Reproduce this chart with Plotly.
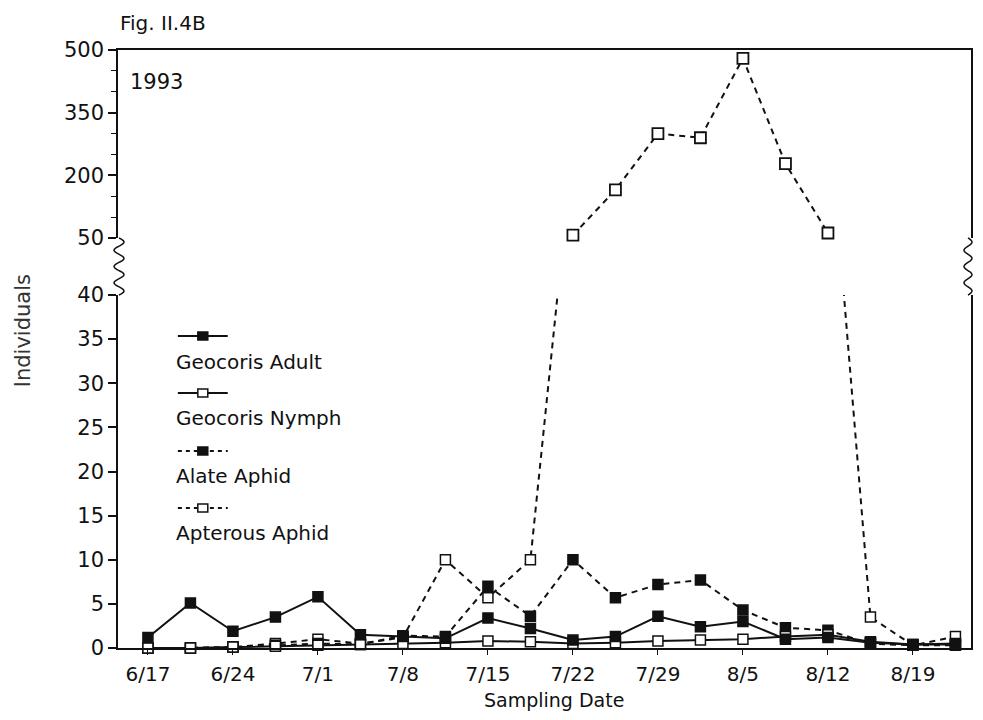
import math
import plotly.graph_objects as go

# ---------------- data ----------------
sample_dates = ["6/17", "6/21", "6/24", "6/28", "7/1", "7/5", "7/8", "7/12", "7/15", "7/19",
                "7/22", "7/26", "7/29", "8/2", "8/5", "8/9", "8/12", "8/16", "8/19", "8/23"]
tick_labels = ["6/17", "6/24", "7/1", "7/8", "7/15", "7/22", "7/29", "8/5", "8/12", "8/19"]

geocoris_adult = [1.2, 5.1, 1.9, 3.5, 5.8, 1.5, 1.3, 1.1, 3.4, 2.2,
                  0.9, 1.3, 3.6, 2.4, 3.0, 1.0, 1.2, 0.6, 0.4, 0.4]
geocoris_nymph = [0.0, 0.0, 0.1, 0.2, 0.3, 0.4, 0.5, 0.6, 0.8, 0.7,
                  0.5, 0.6, 0.8, 0.9, 1.0, 1.3, 1.5, 0.7, 0.4, 0.5]
alate_aphid = [0.0, 0.0, 0.1, 0.3, 0.5, 0.4, 1.4, 1.3, 7.0, 3.6,
               10.0, 5.7, 7.2, 7.7, 4.3, 2.3, 2.0, 0.5, 0.3, 0.3]
apterous_aphid = [0.0, 0.0, 0.1, 0.5, 1.0, 0.5, 1.2, 10.0, 5.7, 10.0,
                  57, 165, 300, 290, 480, 228, 62, 3.5, 0.3, 1.3]

lower_ticks = [0, 5, 10, 15, 20, 25, 30, 35, 40]
upper_ticks = [50, 200, 350, 500]
LOWER_MAX = 40
UPPER_MIN = 50

idx = list(range(len(sample_dates)))
tick_idx = [sample_dates.index(t) for t in tick_labels]

# ---------------- geometry helpers (layout only) ----------------
# The page body has an 8px margin, so the figure is sized to fill the
# 983x720 window exactly together with that margin.
SH = 8
W, H = 983 - 2 * SH, 720 - 2 * SH
SL, SR, ST, SB = 118, 973, 50, 648   # target plot box in window pixels
PW, PH = SR - SL, SB - ST
STEP = 42.6                           # pixels between samples


def px(x):
    return (x - SL) / PW


def py(y):
    return (SB - y) / PH


BLACK = "#111111"
FONT = "DejaVu Sans"
DASH = "6px,5px"

fig = go.Figure()

series = [
    ("Apterous Aphid", apterous_aphid, DASH, "white"),
    ("Alate Aphid", alate_aphid, DASH, BLACK),
    ("Geocoris Nymph", geocoris_nymph, "solid", "white"),
    ("Geocoris Adult", geocoris_adult, "solid", BLACK),
]

for name, vals, dash, fill in series:
    sizes = [10 if v <= LOWER_MAX else 0 for v in vals]
    fig.add_trace(go.Scatter(
        x=idx, y=vals, mode="lines+markers", name=name, showlegend=False,
        line=dict(color=BLACK, width=2, dash=dash),
        marker=dict(symbol="square", size=sizes, color=fill, opacity=1,
                    line=dict(color=BLACK, width=1.5)),
        cliponaxis=False, xaxis="x", yaxis="y",
    ))

# upper (broken) panel: only values in its range
up_x = [i for i, v in zip(idx, apterous_aphid) if v >= UPPER_MIN]
up_y = [v for v in apterous_aphid if v >= UPPER_MIN]
fig.add_trace(go.Scatter(
    x=up_x, y=up_y, mode="lines+markers", name="Apterous Aphid", showlegend=False,
    line=dict(color=BLACK, width=2, dash=DASH),
    marker=dict(symbol="square", size=11, color="white", opacity=1,
                line=dict(color=BLACK, width=1.8)),
    cliponaxis=False, xaxis="x2", yaxis="y2",
))

low_dom = [0, py(295)]
up_dom = [py(238), 1]
xr = [-(148 - SL) / STEP, -(148 - SL) / STEP + PW / STEP]

fig.update_layout(
    width=W, height=H,
    margin=dict(l=SL - SH, r=W - (SR - SH), t=ST - SH, b=H - (SB - SH)),
    paper_bgcolor="white", plot_bgcolor="white",
    font=dict(family=FONT, color=BLACK, size=20),
    xaxis=dict(domain=[0, 1], range=xr, anchor="y",
               tickmode="array", tickvals=tick_idx, ticktext=tick_labels,
               showline=True, linecolor=BLACK, linewidth=2,
               ticks="outside", ticklen=5, tickcolor=BLACK, tickwidth=1,
               ticklabelstandoff=2,
               showgrid=False, zeroline=False,
               tickfont=dict(size=20, family=FONT)),
    yaxis=dict(domain=low_dom, range=[0, LOWER_MAX], anchor="x",
               tickmode="array", tickvals=lower_ticks,
               showline=True, mirror=True, linecolor=BLACK, linewidth=1.5,
               ticks="outside", ticklen=8, tickcolor=BLACK, tickwidth=1.5,
               showgrid=False, zeroline=False,
               tickfont=dict(size=21, family=FONT)),
    xaxis2=dict(domain=[0, 1], range=xr, anchor="y2", matches="x", side="top",
                showline=True, linecolor=BLACK, linewidth=2,
                showticklabels=False, ticks="", showgrid=False, zeroline=False),
    yaxis2=dict(domain=up_dom, range=[UPPER_MIN, 500], anchor="x2",
                tickmode="array", tickvals=upper_ticks,
                showline=True, mirror=True, linecolor=BLACK, linewidth=1.5,
                ticks="outside", ticklen=8, tickcolor=BLACK, tickwidth=1.5,
                minor=dict(dtick=50, tick0=50, ticks="outside", ticklen=5,
                           tickcolor=BLACK, tickwidth=1),
                showgrid=False, zeroline=False,
                tickfont=dict(size=21, family=FONT)),
)

shapes = []


def wave(cx_px, y_top_px, y_bot_px, amp_px, cycles):
    pts = []
    n = 60
    for k in range(n + 1):
        t = k / n
        ypix = y_top_px + (y_bot_px - y_top_px) * t
        xpix = cx_px + amp_px * math.sin(2 * math.pi * cycles * t)
        pts.append((px(xpix), py(ypix)))
    return "M " + " L ".join(f"{a:.5f},{b:.5f}" for a, b in pts)


shapes.append(dict(type="path", xref="paper", yref="paper",
                   path=wave(SL + 1, 238, 295, 5, 3.5),
                   line=dict(color=BLACK, width=1.5)))
shapes.append(dict(type="path", xref="paper", yref="paper",
                   path=wave(SR - 3, 238, 295, 4, 3.5),
                   line=dict(color=BLACK, width=1.5)))

# custom legend (key above label)
legend_items = [
    ("Geocoris Adult", "solid", BLACK, 336, 362),
    ("Geocoris Nymph", "solid", "white", 393, 418),
    ("Alate Aphid", "dash", BLACK, 451, 476),
    ("Apterous Aphid", "dash", "white", 508, 533),
]
annotations = []
for label, dash, fill, ky, ty in legend_items:
    shapes.append(dict(type="line", xref="paper", yref="paper",
                       x0=px(178), x1=px(228), y0=py(ky), y1=py(ky),
                       line=dict(color=BLACK, width=2,
                                 dash=("solid" if dash == "solid" else "4px,4px"))))
    shapes.append(dict(type="rect", xref="paper", yref="paper",
                       x0=px(198), x1=px(208), y0=py(ky + 4), y1=py(ky - 4),
                       fillcolor=fill, line=dict(color=BLACK, width=1.5)))
    annotations.append(dict(text=label, xref="paper", yref="paper",
                            x=px(174), y=py(ty), xanchor="left", yanchor="middle",
                            showarrow=False, font=dict(size=20, family=FONT, color=BLACK)))

annotations += [
    dict(text="Fig. II.4B", xref="paper", yref="paper", x=px(118), y=py(23),
         xanchor="left", yanchor="middle", showarrow=False,
         font=dict(size=20, family=FONT, color=BLACK)),
    dict(text="1993", xref="paper", yref="paper", x=px(128), y=py(82),
         xanchor="left", yanchor="middle", showarrow=False,
         font=dict(size=21, family=FONT, color=BLACK)),
    dict(text="Individuals", xref="paper", yref="paper", x=px(23), y=py(331),
         xanchor="center", yanchor="middle", showarrow=False, textangle=-90,
         font=dict(size=21, family=FONT, color="#333333")),
    dict(text="Sampling Date", xref="paper", yref="paper", x=px(555), y=py(700),
         xanchor="center", yanchor="middle", showarrow=False, borderpad=0,
         font=dict(size=19, family=FONT, color=BLACK)),
]

fig.update_layout(shapes=shapes, annotations=annotations)
fig.write_html("out.html")
